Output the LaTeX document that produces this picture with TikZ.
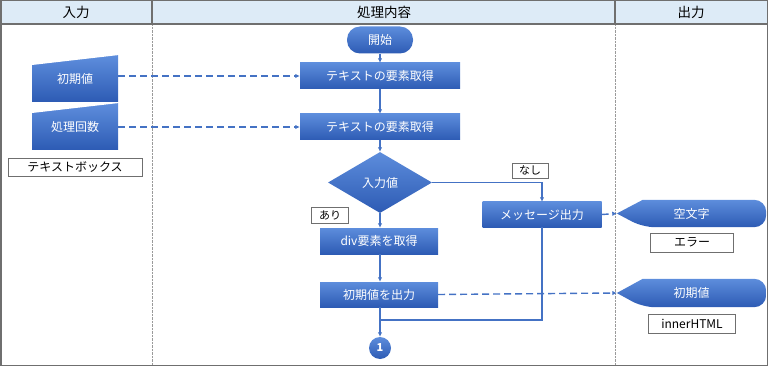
\documentclass[tikz,border=0pt]{standalone}
\usepackage{fontspec}
\setmainfont{Noto Sans CJK JP}
\usetikzlibrary{arrows.meta,shapes.geometric,backgrounds}
\definecolor{flowtop}{HTML}{5D8DDC}
\definecolor{flowbot}{HTML}{2D5BB4}
\definecolor{flowline}{HTML}{4472C4}
\definecolor{headfill}{HTML}{DDEBF7}
\definecolor{frame}{HTML}{6F6F6F}

\tikzset{
  flowfill/.style={top color=flowtop, bottom color=flowbot, draw=none},
  flow/.style={flowfill, text=white, font=\fontsize{12}{12}\selectfont, inner sep=0pt},
  process/.style={flow, rectangle, minimum width=160pt, minimum height=26pt},
  terminal/.style={flow, rectangle, rounded corners=13pt, minimum width=66pt, minimum height=27pt},
  decision/.style={flow, diamond, aspect=1.7, minimum width=104pt, minimum height=61pt},
  connector/.style={flow, circle, minimum size=22pt, font=\fontsize{11}{11}\selectfont\bfseries},
  manual/.style={flow, rectangle, minimum width=86pt, minimum height=46pt,
    path picture={\fill[white, sharp corners] ([shift={(-1pt,1pt)}]path picture bounding box.north west)
      -- ([shift={(1pt,1pt)}]path picture bounding box.north east)
      -- ([yshift=-9pt]path picture bounding box.north west) -- cycle;}},
  display/.style={rectangle, text=white, font=\fontsize{12}{12}\selectfont, inner sep=0pt,
    minimum width=149pt, minimum height=27pt},
  tag/.style={draw=frame, fill=white, text=black, inner sep=0pt, font=\fontsize{12}{12}\selectfont},
  smalltag/.style={tag, font=\fontsize{11}{11}\selectfont},
  lanehead/.style={font=\fontsize{13.5}{13.5}\selectfont, text=black},
  flowarrow/.style={flowline, line width=1.4pt, -{Latex[length=4.5pt,width=4.5pt]}},
  flowjoin/.style={flowline, line width=1.4pt},
  dataarrow/.style={flowline, line width=1.4pt, dash pattern=on 7pt off 4pt, -{Latex[length=4.5pt,width=4.5pt]}}
}

\begin{document}
\begin{tikzpicture}[x=1pt, y=-1pt]
  \useasboundingbox (0,0) rectangle (768,366);

  % Lanes
  \fill[headfill] (0,0) rectangle (768,24);
  \draw[frame!70, densely dotted] (152,24) -- (152,366) (615,24) -- (615,366);
  \draw[frame, line width=1.2pt] (152,0) -- (152,24) (615,0) -- (615,24) (0,24) -- (768,24);
  \draw[frame, line width=1.5pt] (0.75,0.75) rectangle (767.25,365.25);
  \node[lanehead] (hin) at (76,12) {入力};
  \node[lanehead] (hproc) at (384,12) {処理内容};
  \node[lanehead] (hout) at (691,12) {出力};

  % Inputs
  \node[manual] (in1) at (75,79) {\raisebox{-4pt}{初期値}};
  \node[manual] (in2) at (75,127) {\raisebox{-4pt}{処理回数}};
  \node[tag, minimum width=134pt, minimum height=18pt] (tbox) at (75,167) {テキストボックス};

  % Process flow
  \node[terminal] (start) at (380,40) {開始};
  \node[process] (get1) at (380,76) {テキストの要素取得};
  \node[process] (get2) at (380,127) {テキストの要素取得};
  \node[decision] (check) at (380,182.5) {入力値};
  \node[process, minimum width=118pt] (getdiv) at (379,241) {div要素を取得};
  \node[process, minimum width=118pt, minimum height=25pt] (putinit) at (379,294.5) {初期値を出力};
  \node[process, minimum width=119pt, minimum height=25pt] (msg) at (542,214.5) {メッセージ出力};
  \node[connector] (next) at (380,348) {1};
  \node[smalltag, minimum width=37pt, minimum height=16pt] (yes) at (330,215) {あり};
  \node[smalltag, minimum width=36pt, minimum height=15pt] (no) at (530,170.5) {なし};
  \coordinate (join) at (380,320);

  % Outputs
  \node[display] (out1) at (691.5,213.5) {空文字};
  \node[tag, minimum width=83pt, minimum height=19pt] (err) at (692,242.5) {エラー};
  \node[display, minimum height=28pt] (out2) at (691.5,293) {初期値};
  \node[tag, minimum width=87pt, minimum height=19pt] (html) at (692,323.5) {innerHTML};
  \begin{scope}[on background layer]
    \foreach \o in {out1,out2}
      \shade[flowfill] (\o.west) -- ([xshift=26pt]\o.north west) [rounded corners=12pt] -- (\o.north east)
        -- (\o.south east) -- ([xshift=26pt]\o.south west) [sharp corners] -- cycle;
  \end{scope}

  % Connectors
  \draw[flowarrow] (start) -- (get1);
  \draw[flowarrow] (get1) -- (get2);
  \draw[flowarrow] (get2) -- (check);
  \draw[flowarrow] (check) -- (check |- getdiv.north);
  \draw[flowarrow] (check.east) -| (msg.north);
  \draw[flowarrow] (getdiv.south -| check) -- (putinit.north -| check);
  \draw[flowjoin] (msg.south) |- (join);
  \draw[flowarrow] (putinit.south -| next) -- (next);

  % Data
  \draw[dataarrow] (in1.east |- get1.west) -- (get1.west);
  \draw[dataarrow] (in2.east |- get2.west) -- (get2.west);
  \draw[dataarrow] (msg.east) -- (out1.west);
  \draw[dataarrow] (putinit.east) -- (out2.west);
\end{tikzpicture}
\end{document}
